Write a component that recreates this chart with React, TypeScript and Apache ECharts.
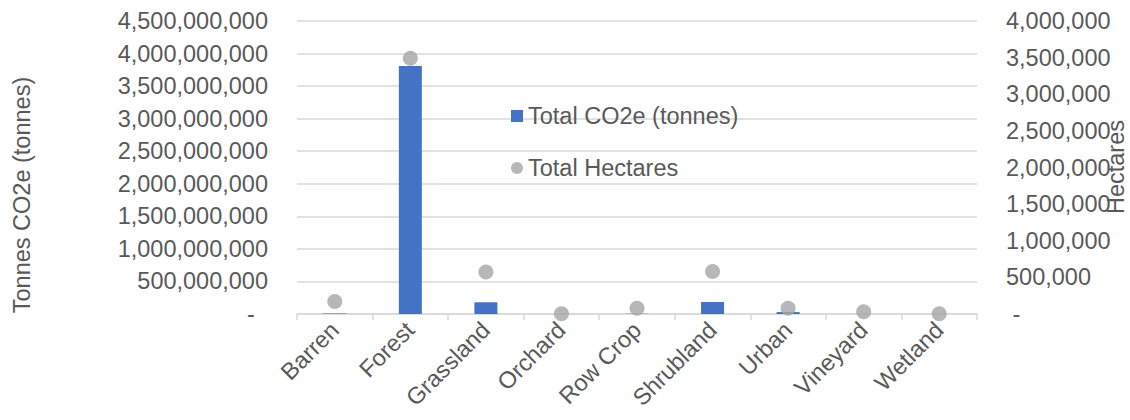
import React, { useEffect, useRef } from "react";
import * as echarts from "echarts";

const categories = ["Barren", "Forest", "Grassland", "Orchard", "Row Crop", "Shrubland", "Urban", "Vineyard", "Wetland"];
const co2Tonnes = [8000000, 3810000000, 180000000, 1000000, 4000000, 185000000, 30000000, 1000000, 500000];
const totalHectares = [170000, 3490000, 575000, 5000, 80000, 580000, 80000, 30000, 3000];
const leftAxisMax = 4500000000;
const leftAxisStep = 500000000;
const rightAxisMax = 4000000;
const rightAxisStep = 500000;
const seriesNames = ["Total CO2e (tonnes)", "Total Hectares"];
const leftAxisTitle = "Tonnes CO2e (tonnes)";
const rightAxisTitle = "Hectares";

const FONT = "'Liberation Sans', Arial, sans-serif";
const TEXT = "#595959";
const GRID = "#D9D9D9";
const FS = 23.5;

const fmt = (v: number) => v.toLocaleString("en-US");

export default function App() {
  const ref = useRef<HTMLDivElement>(null);
  useEffect(() => {
    if (!ref.current) return;
    document.documentElement.style.overflow = "hidden";
    document.body.style.margin = "0";
    document.body.style.overflow = "hidden";
    const chart = echarts.init(ref.current, undefined, { renderer: "svg", width: 1130, height: 420 });
    chart.setOption({
      animation: false,
      backgroundColor: "#ffffff",
      textStyle: { fontFamily: FONT },
      grid: {
        left: 297,
        right: 153,
        top: 21,
        bottom: 106,
        containLabel: false,
        outerBoundsMode: "none",
      },
      legend: {
        orient: "vertical",
        left: 506,
        top: 99,
        itemGap: 28,
        itemWidth: 12,
        itemHeight: 12,
        textStyle: { fontSize: FS, color: TEXT, fontFamily: FONT },
        data: [
          { name: seriesNames[0], icon: "rect" },
          { name: seriesNames[1], icon: "circle" },
        ],
      },
      xAxis: {
        type: "category",
        data: categories,
        axisLine: { lineStyle: { color: GRID, width: 1.5 } },
        axisTick: { show: true, length: 6, lineStyle: { color: GRID, width: 1.5 } },
        axisLabel: { rotate: 45, fontSize: FS, color: TEXT, margin: 12, fontFamily: FONT, interval: 0 },
      },
      yAxis: [
        {
          type: "value",
          min: 0,
          max: leftAxisMax,
          interval: leftAxisStep,
          axisLine: { show: false },
          axisTick: { show: false },
          splitLine: { lineStyle: { color: GRID, width: 1.5 } },
          axisLabel: {
            fontSize: FS,
            color: TEXT,
            margin: 29,
            fontFamily: FONT,
            formatter: (v: number) => (v === 0 ? "-  " : fmt(v)),
          },
        },
        {
          type: "value",
          min: 0,
          max: rightAxisMax,
          interval: rightAxisStep,
          axisLine: { show: false },
          axisTick: { show: false },
          splitLine: { show: false },
          axisLabel: {
            fontSize: FS,
            color: TEXT,
            margin: 29,
            fontFamily: FONT,
            formatter: (v: number) => (v === 0 ? " -" : fmt(v)),
          },
        },
      ],
      graphic: [
        {
          type: "text",
          x: 22,
          y: 195,
          rotation: Math.PI / 2,
          style: {
            text: leftAxisTitle,
            fontSize: FS,
            fill: TEXT,
            fontFamily: FONT,
            align: "center",
            verticalAlign: "middle",
          },
        },
        {
          type: "text",
          x: 1116,
          y: 167,
          rotation: Math.PI / 2,
          style: {
            text: rightAxisTitle,
            fontSize: FS,
            fill: TEXT,
            fontFamily: FONT,
            align: "center",
            verticalAlign: "middle",
          },
        },
      ],
      series: [
        {
          name: seriesNames[0],
          type: "bar",
          yAxisIndex: 0,
          data: co2Tonnes,
          barWidth: 23,
          itemStyle: { color: "#4472C4" },
        },
        {
          name: seriesNames[1],
          type: "scatter",
          yAxisIndex: 1,
          data: totalHectares,
          symbol: "circle",
          symbolSize: 15,
          itemStyle: { color: "#A5A5A5" },
        },
      ],
    });
    return () => chart.dispose();
  }, []);
  return (
    <div
      ref={ref}
      style={{ position: "fixed", left: 0, top: 0, width: 1130, height: 420 }}
    />
  );
}
